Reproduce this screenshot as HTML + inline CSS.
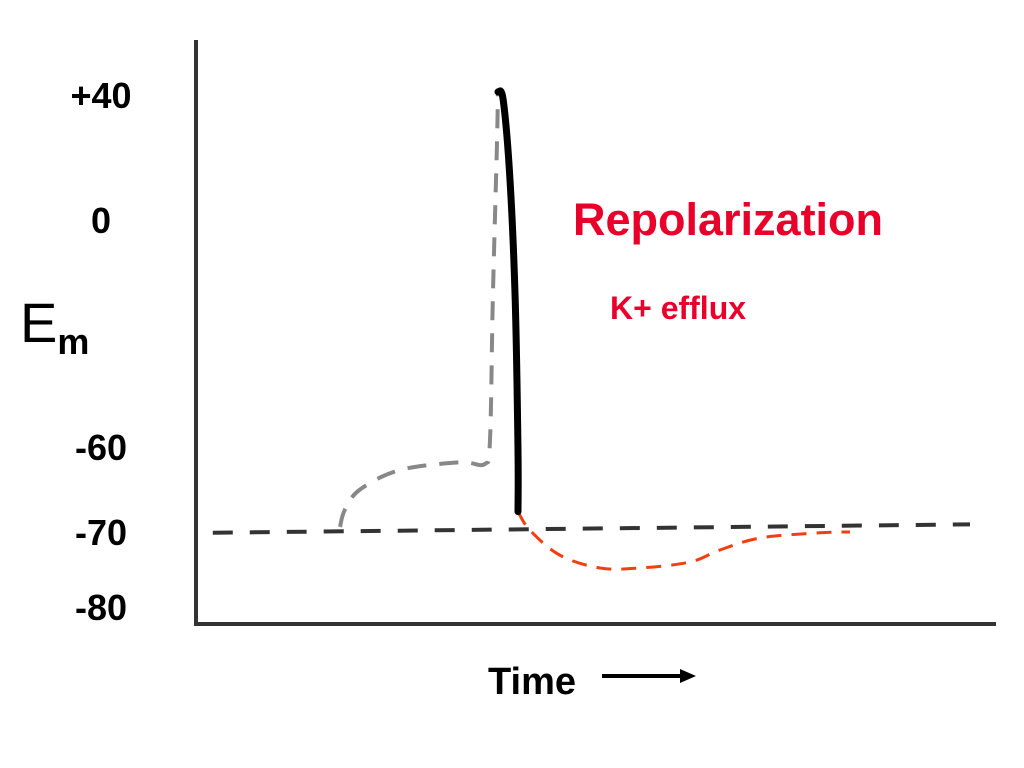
<!DOCTYPE html>
<html><head><meta charset="utf-8"><style>
body{margin:0;background:#fff;}
svg{display:block;font-family:"Liberation Sans",sans-serif;font-weight:bold;}
</style></head><body>
<svg id="chart" width="1024" height="768" viewBox="0 0 1024 768">
<line x1="196" y1="40" x2="196" y2="626" stroke="#333" stroke-width="4"/>
<line x1="194" y1="624" x2="996" y2="624" stroke="#333" stroke-width="4"/>
<g id="ticks"></g>
<text x="20" y="342" font-size="56" font-weight="normal" fill="#000">E<tspan font-size="36" font-weight="bold" dy="12">m</tspan></text>
<text x="573" y="235" font-size="45" fill="#e8002a">Repolarization</text>
<text x="610" y="319" font-size="32" fill="#e8002a">K+ efflux</text>
<text x="488" y="694" font-size="38" fill="#000">Time</text>
<line x1="602" y1="676" x2="682" y2="676" stroke="#000" stroke-width="4"/>
<polygon points="680,669 696,676 680,683" fill="#000"/>
<g id="series"></g>
</svg>
<script>
const tickValues=[40,0,-60,-70,-80];
const tickLabels=["+40","0","-60","-70","-80"];
const tickPixels=[95,220,447,532,607];
const restT=[2.1,96.75];
const restV=[-70.1,-69.1];
const grayT=[18,18.6,20.5,25.5,33,36.1,36.75,37.1,37.6,37.75];
const grayV=[-69.4,-67.4,-65.0,-62.7,-61.8,-62.0,-58.1,-21.1,22.4,41];
const blackT=[37.75,38.4,39.25,39.9,40.25,40.25];
const blackV=[41,38.4,12.8,-21.1,-60.4,-67.6];
const orangeT=[40.25,41.75,45.5,50.5,55.5,61.75,65.5,70.5,78,81.75];
const orangeV=[-67.6,-69.8,-73.1,-74.8,-74.8,-74,-72.4,-70.8,-70.1,-70];
function xs(t){return 196+t*8;}
function ys(v){
  let i=0;
  if(v>=tickValues[0]) i=0;
  else if(v<=tickValues[tickValues.length-1]) i=tickValues.length-2;
  else { while(!(v<=tickValues[i]&&v>=tickValues[i+1])) i++; }
  const a=tickValues[i],b=tickValues[i+1];
  return tickPixels[i]+(a-v)/(a-b)*(tickPixels[i+1]-tickPixels[i]);
}
const NS="http://www.w3.org/2000/svg";
const tg=document.getElementById('ticks');
tickValues.forEach((v,i)=>{
  const t=document.createElementNS(NS,'text');
  
  
  t.setAttribute('x',101);t.setAttribute('y',ys(v)+13);
  t.setAttribute('text-anchor','middle');t.setAttribute('font-size','36');
  t.textContent=tickLabels[i];tg.appendChild(t);
});
function smooth(T,V){
  const p=T.map((t,i)=>[xs(t),ys(V[i])]);
  let d='M'+p[0][0]+','+p[0][1];
  for(let i=0;i<p.length-1;i++){
    const p0=p[i-1]||p[i],p1=p[i],p2=p[i+1],p3=p[i+2]||p2;
    const c1=[p1[0]+(p2[0]-p0[0])/6,p1[1]+(p2[1]-p0[1])/6];
    const c2=[p2[0]-(p3[0]-p1[0])/6,p2[1]-(p3[1]-p1[1])/6];
    d+=' C'+c1+' '+c2+' '+p2;
  }
  return d;
}
const sg=document.getElementById('series');
function add(name,T,V,color,w,dash){
  const e=document.createElementNS(NS,'path');
  
  
  e.setAttribute('d',smooth(T,V));
  e.setAttribute('fill','none');e.setAttribute('stroke',color);
  e.setAttribute('stroke-width',w);e.setAttribute('stroke-linecap','round');
  if(dash){e.setAttribute('stroke-dasharray',dash);e.setAttribute('stroke-linecap','butt');}
  sg.appendChild(e);
}
add('resting-potential-line',restT,restV,'#333',4,'20 17');
add('depolarization-line',grayT,grayV,'#888',4,'19 13');
add('orange-hyperpolarization-line',orangeT,orangeV,'#f04010',3,'15 10');
add('repolarization-line',blackT,blackV,'#000',7,null);
</script>
</body></html>
